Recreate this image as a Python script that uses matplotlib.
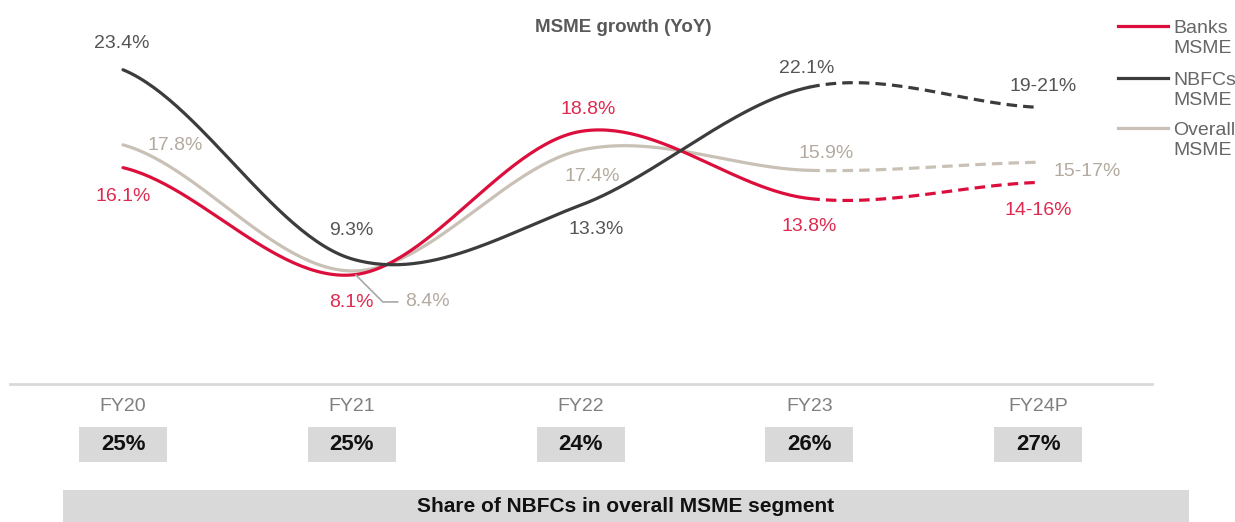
import numpy as np
import matplotlib
matplotlib.use("Agg")
import matplotlib.pyplot as plt
from matplotlib.patches import Rectangle
from matplotlib.lines import Line2D
from matplotlib import transforms

plt.rcParams['font.family'] = ['Liberation Sans', 'DejaVu Sans']

# data
categories = ["FY20", "FY21", "FY22", "FY23", "FY24P"]
banks = [16.1, 8.1, 18.8, 13.8, 15.0]
nbfcs = [23.4, 9.3, 13.3, 22.1, 20.6]
overall = [17.8, 8.4, 17.4, 15.9, 16.5]
banks_labels = ["16.1%", "8.1%", "18.8%", "13.8%", "14-16%"]
nbfcs_labels = ["23.4%", "9.3%", "13.3%", "22.1%", "19-21%"]
overall_labels = ["17.8%", "8.4%", "17.4%", "15.9%", "15-17%"]
nbfc_share = ["25%", "25%", "24%", "26%", "27%"]

RED = "#dc0f3c"
DARK = "#3c3c3c"
BEIGE = "#c9c1b6"
RED_TXT = "#e0294f"
DARK_TXT = "#555555"
BEIGE_TXT = "#b3aaa0"
BOX = "#d9d9d9"


def smooth(y, n=60):
    # cubic hermite (catmull-rom style) like excel's smoothed line
    y = np.asarray(y, float)
    m = np.zeros_like(y)
    m[1:-1] = (y[2:] - y[:-2]) / 2
    m[0] = (y[1] - y[0]) / 2
    m[-1] = (y[-1] - y[-2]) / 2
    xs, ys = [], []
    for i in range(len(y) - 1):
        t = np.linspace(0, 1, n)
        h00 = 2*t**3 - 3*t**2 + 1
        h10 = t**3 - 2*t**2 + t
        h01 = -2*t**3 + 3*t**2
        h11 = t**3 - t**2
        xs.append(i + t)
        ys.append(h00*y[i] + h10*m[i] + h01*y[i+1] + h11*m[i+1])
    return xs, ys


fig = plt.figure(figsize=(12.35, 5.22), dpi=100, facecolor="white")
ax = fig.add_axes([10/1235, 1 - 383.6/522, 1142/1235, 383.6/522])
ax.set_xlim(-0.494, 4.498)
ax.set_ylim(0, 28.6)

for vals, col in [(overall, BEIGE), (banks, RED), (nbfcs, DARK)]:
    xs, ys = smooth(vals)
    solid_x = np.concatenate(xs[:3])
    solid_y = np.concatenate(ys[:3])
    ax.plot(solid_x, solid_y, color=col, lw=2.3, solid_capstyle="round")
    ax.plot(xs[3], ys[3], color=col, lw=2.3, dashes=(3.3, 1.9))

# data labels: (offset px, ha)
lab_style = dict(textcoords="offset pixels", fontsize=14, va="center")
nb_off = [(-1, 26), (0, 28), (16, -24), (-3, 19), (5, 21)]
bk_off = [(0, -29), (0, -28), (8, 22), (0, -28), (0, -28)]
ov_off = [(24, -1), None, (12, -26), (17, 17), (15, -9)]
for i in range(5):
    ax.annotate(nbfcs_labels[i], (i, nbfcs[i]), xytext=nb_off[i], ha="center",
                color=DARK_TXT, **lab_style)
    ax.annotate(banks_labels[i], (i, banks[i]), xytext=bk_off[i], ha="center",
                color=RED_TXT, **lab_style)
    if ov_off[i] is None:
        ax.annotate(overall_labels[i], (i, overall[i]), xytext=(53, -31), ha="left",
                    color=BEIGE_TXT,
                    arrowprops=dict(arrowstyle="-", color="#a8a8a8", lw=1.2,
                                    shrinkA=3, shrinkB=4,
                                    connectionstyle="angle,angleA=0,angleB=-45,rad=0"),
                    **lab_style)
    else:
        ha = "center" if i in (2, 3) else "left"
        ax.annotate(overall_labels[i], (i, overall[i]), xytext=ov_off[i], ha=ha,
                    color=BEIGE_TXT, **lab_style)

for s in ["top", "right", "left"]:
    ax.spines[s].set_visible(False)
ax.spines["bottom"].set_color("#d9d9d9")
ax.spines["bottom"].set_linewidth(2)
ax.set_yticks([])
ax.set_xticks(range(len(categories)), categories)
ax.tick_params(axis="x", length=0, pad=10.5, labelsize=14, labelcolor="#7f7f7f")

# share of NBFCs boxes under each year
trans = transforms.blended_transform_factory(ax.transData, fig.transFigure)
bw = 88 / 228.75
for i, s in enumerate(nbfc_share):
    ax.add_patch(Rectangle((i - bw/2, 1 - 462/522), bw, 35/522, transform=trans,
                           facecolor=BOX, edgecolor="none", clip_on=False))
    ax.text(i, 1 - 445/522, s, transform=trans, ha="center", va="center",
            fontsize=16, fontweight="bold", color="#111111")

fig.patches.append(Rectangle((63/1235, 0), 1126/1235, 32/522, transform=fig.transFigure,
                             facecolor=BOX, edgecolor="none"))
fig.text(626/1235, 1 - 507/522, "Share of NBFCs in overall MSME segment", ha="center",
         va="center", fontsize=15, fontweight="bold", color="#111111")

fig.text(623/1235, 1 - 27/522, "MSME growth (YoY)", ha="center", va="center",
         fontsize=13.5, fontweight="bold", color="#595959")

# legend on the right
leg = [("Banks\nMSME", RED, 26), ("NBFCs\nMSME", DARK, 78), ("Overall\nMSME", BEIGE, 128)]
for txt, col, ypx in leg:
    yy = 1 - ypx/522
    fig.add_artist(Line2D([1118/1235, 1168/1235], [yy, yy], color=col, lw=2.3,
                          transform=fig.transFigure))
    fig.text(1173/1235, yy + 6/522, txt, ha="left", va="top", fontsize=14,
             color="#666666", linespacing=1.25)

fig.savefig("out.png", dpi=100)
